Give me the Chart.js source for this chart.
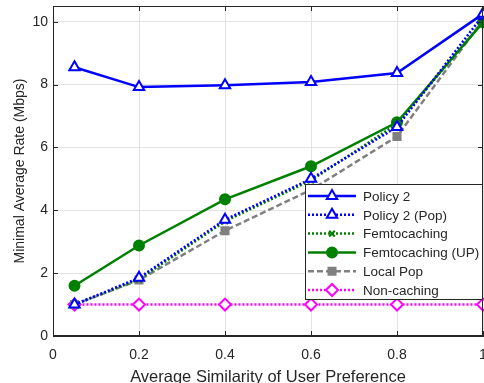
<!DOCTYPE html>
<html>
<head>
<meta charset="utf-8">
<script src="https://cdn.jsdelivr.net/npm/chart.js@4"></script>
<style>
  html, body { margin: 0; padding: 0; background: #fff; }
  #wrap { width: 484px; height: 383px; }
</style>
</head>
<body>
<div id="wrap"><canvas id="chart"></canvas></div>
<script>
// similarity values on the x axis
const similarity = [0.05, 0.2, 0.4, 0.6, 0.8, 1.0];
const yTicks = [0, 2, 4, 6, 8, 10];

const policy2      = [8.55, 7.92, 7.98, 8.08, 8.37, 10.25];
const policy2Pop   = [1.0, 1.85, 3.70, 5.00, 6.65, 10.20];
const femto        = [1.0, 1.80, 3.65, 4.95, 6.75, 10.00];
const femtoUP      = [1.60, 2.88, 4.35, 5.40, 6.80, 9.98];
const localPop     = [1.0, 1.78, 3.35, 4.65, 6.35, 10.05];
const nonCaching   = [1.0, 1.0, 1.0, 1.0, 1.0, 1.0];

const seriesNames = ['Policy 2', 'Policy 2 (Pop)', 'Femtocaching', 'Femtocaching (UP)', 'Local Pop', 'Non-caching'];

function pts(ys) {
    return ys.map((y, i) => ({x: similarity[i], y: y}));
}

const styles = [
    {color: '#0000ff', dash: [], point: 'triangle', fill: '#ffffff', r: 6},
    {color: '#0000ff', dash: [2, 2], point: 'triangle', fill: '#ffffff', r: 6},
    {color: '#008000', dash: [2, 2], point: 'crossRot', fill: '#008000', r: 4},
    {color: '#008000', dash: [], point: 'circle', fill: '#008000', r: 5},
    {color: '#808080', dash: [6, 3], point: 'rect', fill: '#808080', r: 5},
    {color: '#ff00ff', dash: [2, 2], point: 'rectRot', fill: '#ffffff', r: 6}
];
const allData = [policy2, policy2Pop, femto, femtoUP, localPop, nonCaching];

const datasets = allData.map((ys, i) => ({
    label: seriesNames[i],
    data: pts(ys),
    borderColor: styles[i].color,
    borderWidth: 2.5,
    borderDash: styles[i].dash,
    pointStyle: styles[i].point,
    pointRadius: styles[i].r,
    pointBorderWidth: 2,
    pointBorderColor: styles[i].color,
    pointBackgroundColor: styles[i].fill,
    clip: 8,
    tension: 0
}));

// frame round the plot area
const framePlugin = {
    id: 'frame',
    afterDraw(chart) {
        const a = chart.chartArea, ctx = chart.ctx;
        ctx.save();
        ctx.strokeStyle = '#262626';
        ctx.lineWidth = 1;
        ctx.strokeRect(a.left + 0.5, a.top + 0.5, a.right - a.left - 1, a.bottom - a.top - 1);
        // inward ticks on all four sides
        const xs = chart.scales.x, ys = chart.scales.y;
        ctx.beginPath();
        xs.ticks.forEach(t => {
            const px = Math.round(xs.getPixelForValue(t.value)) + 0.5;
            ctx.moveTo(px, a.top); ctx.lineTo(px, a.top + 5);
            ctx.moveTo(px, a.bottom); ctx.lineTo(px, a.bottom - 5);
        });
        ys.ticks.forEach(t => {
            const py = Math.round(ys.getPixelForValue(t.value)) + 0.5;
            ctx.moveTo(a.right, py); ctx.lineTo(a.right - 5, py);
            ctx.moveTo(a.left, py); ctx.lineTo(a.left + 5, py);
        });
        ctx.stroke();
        ctx.restore();
    }
};

// legend box in the lower right corner of the plot
const legendBox = {
    id: 'legendBox',
    afterDraw(chart) {
        const a = chart.chartArea, ctx = chart.ctx;
        const x0 = 305, y0 = 184;
        const w = a.right - x0, h = 116;
        ctx.save();
        ctx.fillStyle = '#fff';
        ctx.fillRect(x0, y0, w, h);
        ctx.strokeStyle = '#262626';
        ctx.lineWidth = 1;
        ctx.strokeRect(x0 + 0.5, y0 + 0.5, w - 1, h - 1);
        ctx.font = '13.5px "Liberation Sans", Arial, sans-serif';
        ctx.textBaseline = 'middle';
        chart.data.datasets.forEach((ds, i) => {
            const cy = y0 + 12 + i * 18.8;
            const lx0 = x0 + 3, lx1 = x0 + 51;
            ctx.strokeStyle = ds.borderColor;
            ctx.lineWidth = 2.5;
            ctx.setLineDash(ds.borderDash);
            ctx.beginPath();
            ctx.moveTo(lx0, cy); ctx.lineTo(lx1, cy);
            ctx.stroke();
            ctx.setLineDash([]);
            ctx.fillStyle = ds.pointBackgroundColor;
            ctx.strokeStyle = ds.pointBorderColor;
            ctx.lineWidth = 2;
            Chart.helpers.drawPoint(ctx, {pointStyle: ds.pointStyle, radius: ds.pointRadius, borderWidth: 2, rotation: 0},
                (lx0 + lx1) / 2, cy);
            ctx.fillStyle = '#262626';
            ctx.fillText(ds.label, x0 + 58, cy + 1);
        });
        ctx.restore();
    }
};

new Chart(document.getElementById('chart'), {
    type: 'line',
    data: {datasets: datasets},
    options: {
        responsive: true,
        maintainAspectRatio: false,
        animation: false,
        layout: {autoPadding: false, padding: {top: 6, right: 1, left: 0, bottom: 0}},
        plugins: {legend: {display: false}, tooltip: {enabled: false}},
        scales: {
            x: {
                type: 'linear',
                min: 0, max: 1,
                afterFit: s => { s.paddingRight = 0; s.paddingLeft = 0; s.height = 47; },
                ticks: {stepSize: 0.2, color: '#262626', font: {family: 'Liberation Sans', size: 14}, padding: 11,
                    callback: v => Number(v.toFixed(1)).toString()},
                grid: {color: '#e3e3e3', drawTicks: false},
                border: {color: '#262626'},
                title: {display: true, text: 'Average Similarity of User Preference', color: '#262626',
                    font: {family: 'Liberation Sans', size: 16.5}, padding: {top: 0, bottom: -4}}
            },
            y: {
                min: 0, max: 10.5,
                afterBuildTicks: s => { s.ticks = yTicks.map(v => ({value: v})); },
                afterFit: s => { s.width = 53; s.paddingTop = 0; s.paddingBottom = 0; },
                ticks: {color: '#262626', font: {family: 'Liberation Sans', size: 14}, padding: 5},
                grid: {color: '#e3e3e3', drawTicks: false},
                border: {color: '#262626'},
                title: {display: true, text: 'Minimal Average Rate (Mbps)', color: '#262626',
                    font: {family: 'Liberation Sans', size: 14}, padding: {top: 12, bottom: 0}}
            }
        }
    },
    plugins: [framePlugin, legendBox]
});
</script>
</body>
</html>
